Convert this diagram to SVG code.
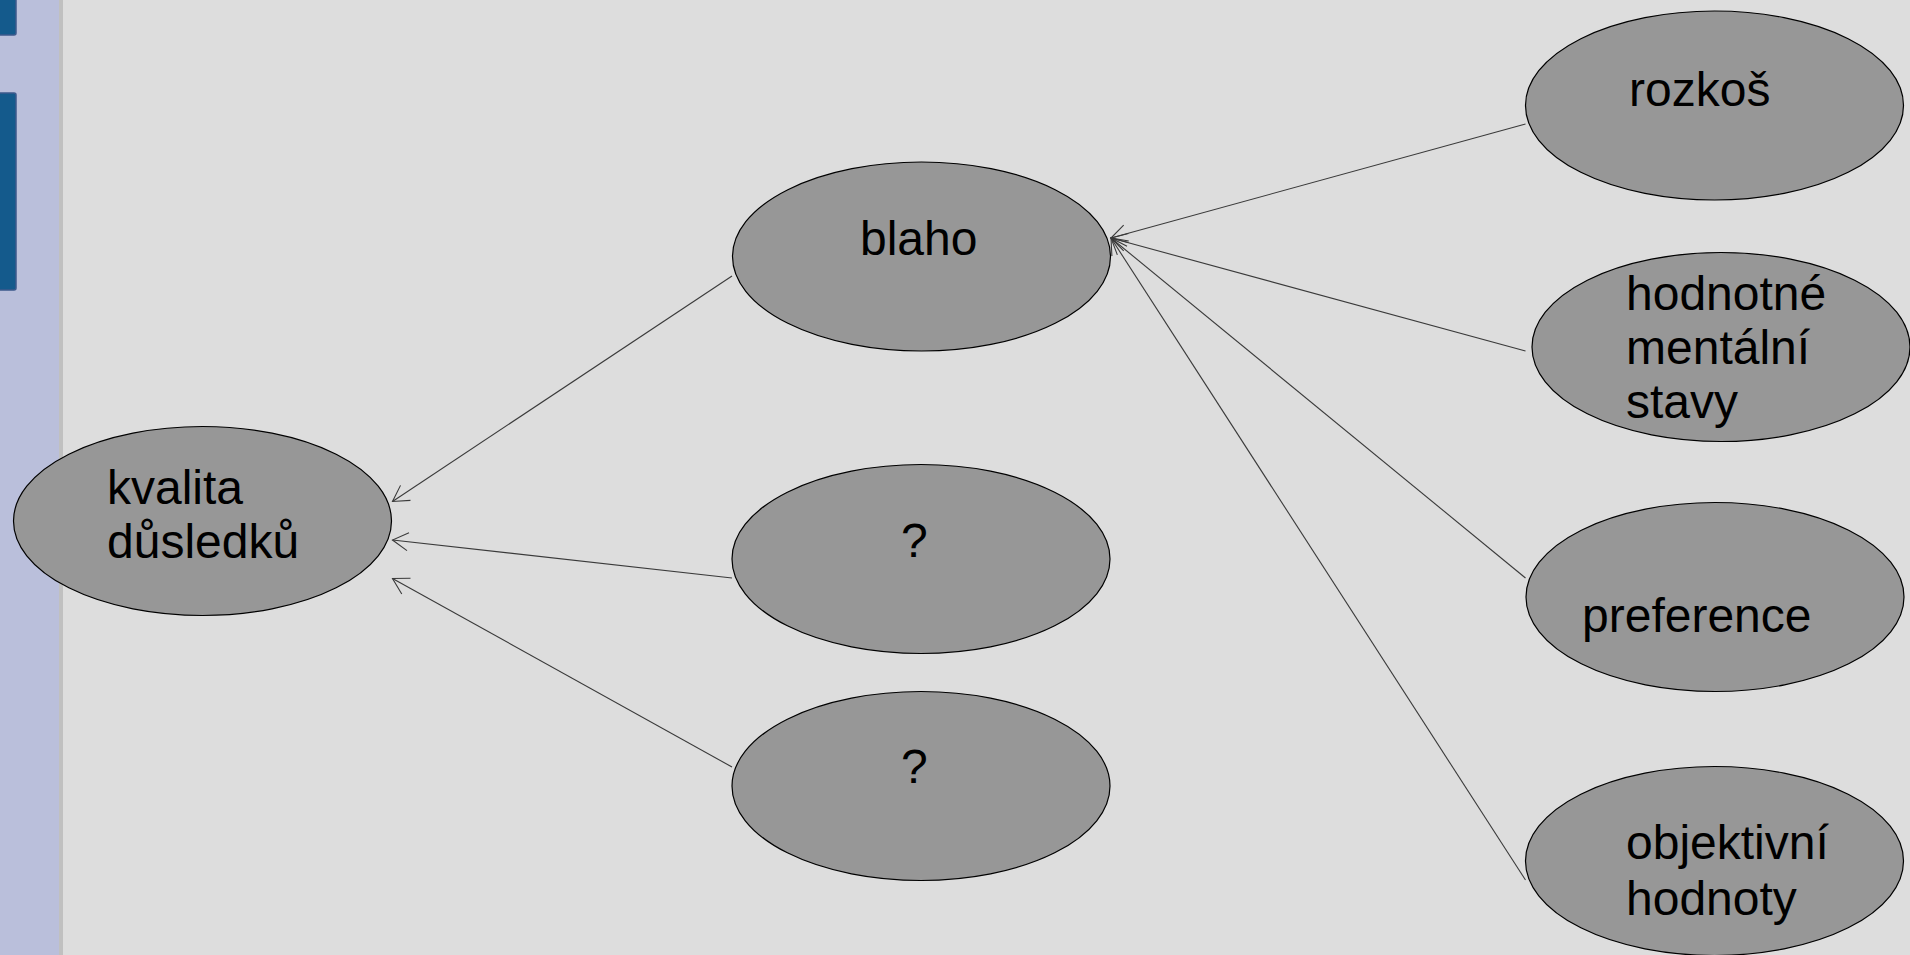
<svg xmlns="http://www.w3.org/2000/svg" width="1910" height="955" viewBox="0 0 1910 955">
<style>
.node ellipse{fill:#979797;stroke:#000;stroke-width:1.2}
.node text{font-family:"Liberation Sans",Arial,sans-serif;font-size:48px;fill:#000}
.conn line{stroke:#3a3a3a;stroke-width:1.1;fill:none}
</style>
<defs>
<marker id="arr" markerUnits="userSpaceOnUse" viewBox="-18 -11 20 22" refX="0" refY="0" markerWidth="20" markerHeight="22" orient="auto" overflow="visible">
<path d="M-15.6,-9 L0,0 L-15.6,9" fill="none" stroke="#3a3a3a" stroke-width="1.1"/>
</marker>
</defs>
<rect x="0" y="0" width="1910" height="955" fill="#dddddd"/>
<g id="sidebar">
<rect x="0" y="0" width="60" height="955" fill="#babfdb"/>
<rect x="59" y="0" width="4" height="955" fill="#c0c0c0"/>
<rect x="-4" y="-4" width="20" height="39" rx="2" fill="#145a8c" stroke="#3d5a8c" stroke-width="1.5"/>
<rect x="-4" y="93" width="20" height="197" rx="2" fill="#145a8c" stroke="#3d5a8c" stroke-width="1.5"/>
</g>
<g id="connectors" class="conn">
<line x1="732" y1="276" x2="392.5" y2="501.5" marker-end="url(#arr)"/>
<line x1="732" y1="578" x2="392.5" y2="540" marker-end="url(#arr)"/>
<line x1="732" y1="767" x2="392.5" y2="578.5" marker-end="url(#arr)"/>
<line x1="1525.5" y1="124" x2="1111" y2="238" marker-end="url(#arr)"/>
<line x1="1525.5" y1="351" x2="1111" y2="238" marker-end="url(#arr)"/>
<line x1="1525.5" y1="578" x2="1111" y2="238" marker-end="url(#arr)"/>
<line x1="1525.5" y1="880" x2="1111" y2="238" marker-end="url(#arr)"/>
</g>
<g id="n-kvalita" class="node">
<ellipse cx="202.5" cy="521" rx="189" ry="94.5"/>
<text x="107" y="504">kvalita</text>
<text x="107" y="558">důsledků</text>
</g>
<g id="n-blaho" class="node">
<ellipse cx="921.5" cy="256.5" rx="189" ry="94.5"/>
<text x="860" y="255">blaho</text>
</g>
<g id="n-q1" class="node">
<ellipse cx="921" cy="559" rx="189" ry="94.5"/>
<text x="901" y="557">?</text>
</g>
<g id="n-q2" class="node">
<ellipse cx="921" cy="786" rx="189" ry="94.5"/>
<text x="901" y="783">?</text>
</g>
<g id="n-rozkos" class="node">
<ellipse cx="1714.5" cy="105.5" rx="189" ry="94.5"/>
<text x="1629" y="106">rozkoš</text>
</g>
<g id="n-hodnotne" class="node">
<ellipse cx="1721" cy="347" rx="189" ry="94.5"/>
<text x="1626" y="310">hodnotné</text>
<text x="1626" y="364">mentální</text>
<text x="1626" y="418">stavy</text>
</g>
<g id="n-preference" class="node">
<ellipse cx="1715" cy="597" rx="189" ry="94.5"/>
<text x="1582" y="632">preference</text>
</g>
<g id="n-objektivni" class="node">
<ellipse cx="1714.5" cy="861" rx="189" ry="94.5"/>
<text x="1626" y="859">objektivní</text>
<text x="1626" y="915">hodnoty</text>
</g>
</svg>
